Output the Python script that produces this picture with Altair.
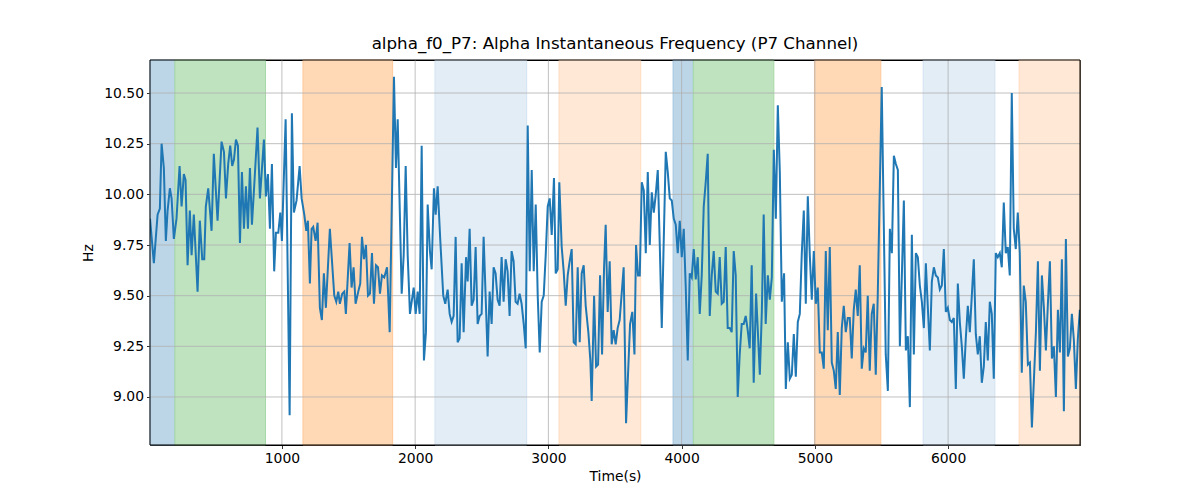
import altair as alt
import pandas as pd

# ---- line data (time in s, frequency in Hz) ----
t1 = [10, 39, 67, 84, 97, 114, 129, 142, 159, 172,
      189, 209, 232, 247, 264, 277, 292, 309, 322, 339,
      367, 384, 402, 417, 429, 447, 472, 489, 517, 547,
      565, 580, 597, 612, 627, 640, 655, 670, 685, 700,
      715, 730, 745, 760, 775, 792, 817, 835, 865, 880,
      895, 910, 925, 942, 955, 973, 988, 1000, 1028, 1058,
      1075, 1090, 1110, 1133, 1148, 1168, 1183, 1195, 1210, 1223,
      1235, 1253, 1268, 1285, 1300, 1315, 1330, 1360, 1393, 1408,
      1423, 1435, 1453, 1468, 1480, 1508, 1523, 1538, 1553, 1573,
      1588, 1601, 1616, 1631, 1646, 1661, 1676, 1691, 1706, 1721,
      1736, 1751, 1768]
v1 = [9.88, 9.66, 9.90, 9.93, 10.25, 10.13, 9.77, 9.92, 10.03, 9.98,
      9.78, 9.88, 10.14, 9.94, 10.10, 10.07, 9.65, 9.92, 9.70, 9.90,
      9.52, 9.87, 9.68, 9.68, 9.94, 10.03, 9.82, 10.20, 9.87, 10.26,
      10.21, 9.98, 10.15, 10.24, 10.14, 10.17, 10.27, 10.24, 9.76, 10.11,
      9.83, 10.04, 9.83, 10.13, 9.85, 10.04, 10.33, 9.98, 10.27, 9.99,
      10.10, 9.83, 10.15, 9.62, 9.81, 9.81, 9.91, 9.77, 10.37, 8.91,
      10.40, 9.91, 9.97, 10.14, 9.98, 9.90, 9.82, 9.87, 9.56, 9.83,
      9.84, 9.77, 9.86, 9.44, 9.38, 9.61, 9.44, 9.83, 9.50, 9.47,
      9.52, 9.46, 9.51, 9.52, 9.41, 9.76, 9.54, 9.64, 9.46, 9.52,
      9.56, 9.79, 9.68, 9.75, 9.50, 9.51, 9.71, 9.46, 9.65, 9.64,
      9.51, 9.60, 9.59]

t2 = [1789, 1809, 1841, 1856, 1869, 1899, 1914, 1929, 1944, 1961,
      1989, 2004, 2019, 2034, 2049, 2066, 2081, 2094, 2111, 2124,
      2141, 2154, 2169, 2189, 2211, 2226, 2244, 2259, 2274, 2289,
      2304, 2319, 2334, 2349, 2364, 2382, 2394, 2409, 2424, 2439,
      2454, 2469, 2484, 2499, 2514, 2529, 2544, 2559, 2574, 2589,
      2604, 2619, 2634, 2649, 2664, 2679, 2694, 2709, 2724, 2739,
      2754, 2769, 2784, 2799, 2815, 2830, 2845, 2860, 2875, 2890,
      2905, 2920, 2935, 2950, 2965, 2980, 2995, 3010, 3025, 3042,
      3055, 3070, 3082, 3100, 3115, 3130, 3145, 3160, 3175, 3190,
      3205, 3220, 3235, 3250, 3265, 3280, 3300, 3315, 3325, 3343,
      3358, 3373, 3388, 3403, 3418, 3430, 3445, 3460, 3475, 3490]
v2 = [9.64, 9.32, 10.58, 10.13, 10.37, 9.51, 9.70, 10.14, 9.70, 9.41,
      9.54, 9.41, 9.52, 9.41, 10.24, 9.18, 9.32, 9.95, 9.72, 9.63,
      10.03, 9.90, 10.04, 9.77, 9.50, 9.46, 9.53, 9.41, 9.37, 9.40,
      9.79, 9.27, 9.29, 9.66, 9.32, 9.69, 9.57, 9.83, 9.45, 9.48,
      9.74, 9.36, 9.40, 9.41, 9.79, 9.50, 9.20, 9.52, 9.36, 9.64,
      9.61, 9.48, 9.45, 9.69, 9.47, 9.68, 9.62, 9.40, 9.72, 9.67,
      9.47, 9.46, 9.51, 9.46, 9.36, 9.24, 10.34, 9.62, 10.12, 9.62,
      9.95, 9.50, 9.22, 9.47, 9.50, 9.70, 9.94, 9.98, 9.80, 10.08,
      9.61, 9.63, 10.06, 9.74, 9.62, 9.45, 9.60, 9.67, 9.73, 9.27,
      9.26, 9.64, 9.27, 9.61, 9.65, 9.45, 9.32, 9.18, 8.98, 9.50,
      9.15, 9.16, 9.60, 9.21, 9.64, 9.85, 9.42, 9.67, 9.26, 9.33]

t3 = [3505, 3520, 3535, 3565, 3583, 3613, 3630, 3646, 3658, 3673,
      3686, 3701, 3716, 3731, 3746, 3761, 3776, 3791, 3806, 3821,
      3836, 3851, 3881, 3896, 3911, 3926, 3941, 3956, 3971, 3986,
      4001, 4016, 4031, 4046, 4061, 4076, 4091, 4106, 4121, 4136,
      4151, 4166, 4181, 4196, 4211, 4226, 4241, 4256, 4271, 4286,
      4301, 4316, 4331, 4346, 4361, 4376, 4391, 4406, 4421, 4436,
      4451, 4466, 4481, 4496, 4511, 4526, 4541, 4559, 4571, 4587,
      4602, 4616, 4631, 4647, 4662, 4677, 4692, 4707, 4722, 4737,
      4752, 4769, 4782, 4797, 4812, 4827, 4842, 4857, 4872, 4887,
      4902, 4917, 4932, 4947, 4962, 4977, 4992, 5007, 5022, 5037,
      5052, 5067, 5082, 5097, 5112, 5127, 5142, 5157, 5172, 5187,
      5202, 5217]
v3 = [9.26, 9.34, 9.38, 9.64, 8.87, 9.36, 9.42, 9.21, 9.75, 9.60,
      9.60, 10.06, 10.02, 9.71, 10.11, 9.75, 10.01, 9.91, 10.00, 10.12,
      9.75, 9.34, 10.21, 10.11, 9.98, 9.97, 9.88, 9.85, 9.71, 9.87,
      9.69, 9.83, 9.54, 9.18, 9.61, 9.59, 9.73, 9.58, 9.69, 9.41,
      9.60, 9.94, 10.06, 10.20, 9.40, 9.60, 9.72, 9.52, 9.51, 9.69,
      9.46, 9.47, 9.74, 9.34, 9.34, 9.32, 9.72, 9.60, 9.00, 9.21,
      9.36, 9.36, 9.40, 9.33, 9.24, 9.65, 9.07, 9.51, 9.34, 9.11,
      9.42, 9.90, 9.36, 9.60, 9.48, 9.59, 10.22, 9.88, 10.44, 10.11,
      9.47, 9.61, 9.04, 9.27, 9.09, 9.11, 9.31, 9.10, 9.37, 9.41,
      9.71, 9.92, 9.46, 9.99, 9.70, 9.48, 9.72, 9.46, 9.54, 9.22,
      9.22, 9.14, 9.72, 9.33, 9.74, 9.17, 9.13, 9.04, 9.32, 9.01,
      9.34, 9.45]

t4 = [5232, 5247, 5262, 5277, 5292, 5307, 5322, 5337, 5352, 5367,
      5382, 5397, 5412, 5427, 5442, 5457, 5472, 5502, 5532, 5548,
      5563, 5578, 5593, 5608, 5623, 5638, 5653, 5668, 5683, 5698,
      5713, 5728, 5743, 5758, 5773, 5788, 5803, 5818, 5833, 5848,
      5863, 5878, 5893, 5908, 5923, 5938, 5953, 5968, 5983, 5998,
      6013, 6028, 6043, 6058, 6073, 6088, 6103, 6118, 6133, 6148,
      6163, 6178, 6193, 6208, 6223, 6238, 6253, 6268, 6283, 6298,
      6313, 6328, 6343, 6358, 6373, 6388, 6403, 6418, 6433, 6448,
      6463, 6478, 6493, 6508, 6523, 6538, 6553, 6568, 6583, 6599,
      6614, 6629, 6659, 6674, 6689, 6704, 6719, 6734, 6749, 6764,
      6779, 6794, 6809, 6824, 6839, 6854, 6869, 6884, 6899, 6914,
      6929, 6944, 6959, 6974, 6989]
v4 = [9.32, 9.39, 9.39, 9.19, 9.43, 9.53, 9.40, 9.65, 9.14, 9.24,
      9.22, 9.50, 9.13, 9.41, 9.46, 9.11, 9.50, 10.53, 9.21, 9.03,
      9.83, 9.71, 10.19, 10.15, 10.12, 9.25, 9.60, 9.97, 9.23, 9.30,
      8.95, 9.80, 9.21, 9.71, 9.69, 9.55, 9.47, 9.34, 9.66, 9.44,
      9.23, 9.57, 9.64, 9.60, 9.59, 9.53, 9.55, 9.73, 9.42, 9.44,
      9.38, 9.37, 9.39, 9.04, 9.56, 9.37, 9.25, 9.09, 9.29, 9.45,
      9.32, 9.50, 9.68, 9.31, 9.21, 9.30, 9.07, 9.15, 9.37, 9.18,
      9.47, 9.41, 9.09, 9.71, 9.69, 9.71, 9.64, 9.96, 9.71, 9.74,
      9.60, 10.50, 9.83, 9.73, 9.91, 9.71, 9.12, 9.55, 9.47, 9.16,
      9.17, 8.85, 9.32, 9.67, 9.13, 9.60, 9.44, 9.23, 9.46, 9.67,
      9.19, 9.25, 9.00, 9.43, 9.22, 9.68, 8.93, 9.78, 9.20, 9.24,
      9.41, 9.28, 9.04, 9.29, 9.43]

# ---- shaded intervals ----
band_start = [10, 197, 1158, 2149, 3080, 3936, 4088, 4997, 5813, 6533]
band_end = [197, 877, 1831, 2837, 3693, 4088, 4692, 5495, 6351, 6990]
band_kind = ["blue", "green", "orange", "lightblue", "lightorange",
             "blue", "green", "orange", "lightblue", "lightorange"]

kinds = ["blue", "green", "orange", "lightblue", "lightorange"]
fill_colors = ["#bcd6e8", "#bfe2bf", "#ffd9b6", "#e3edf6", "#ffe9d6"]
edge_colors = ["#a3c6df", "#a6d8a6", "#ffc99a", "#d3e2f0", "#ffdcbd"]

# ---- ticks ----
x_ticks = [1000, 2000, 3000, 4000, 5000, 6000]
y_ticks = [9.00, 9.25, 9.50, 9.75, 10.00, 10.25, 10.50]
x_domain = [10, 6990]
y_domain = [8.763, 10.663]

line_df = pd.DataFrame({"t": t1 + t2 + t3 + t4, "hz": v1 + v2 + v3 + v4})
band_df = pd.DataFrame({"start": band_start, "end": band_end, "kind": band_kind})
xg_df = pd.DataFrame({"x": x_ticks})
yg_df = pd.DataFrame({"y": y_ticks})
frame_df = pd.DataFrame({"x0": [x_domain[0]], "x1": [x_domain[1]],
                         "y0": [y_domain[0]], "y1": [y_domain[1]]})

FONT = "DejaVu Sans"

xscale = alt.Scale(domain=x_domain, nice=False, zero=False)
yscale = alt.Scale(domain=y_domain, nice=False, zero=False)

xaxis = alt.Axis(values=x_ticks, title="Time(s)", grid=False, domain=False,
                 labelFont=FONT, labelFontSize=13.9, labelColor="black",
                 titleFont=FONT, titleFontSize=13.9, titleFontWeight="normal",
                 titleColor="black", tickColor="black", tickSize=3.5, tickWidth=0.8,
                 labelPadding=3, titlePadding=4, format="d", labelFlush=False)
yaxis = alt.Axis(values=y_ticks, title="Hz", grid=False, domain=False, format=".2f",
                 labelFont=FONT, labelFontSize=13.9, labelColor="black",
                 titleFont=FONT, titleFontSize=13.9, titleFontWeight="normal",
                 titleColor="black", tickColor="black", tickSize=3.5, tickWidth=0.8,
                 labelPadding=3, titlePadding=8, labelFlush=False)

bands = alt.Chart(band_df).mark_rect(strokeWidth=1).encode(
    x=alt.X("start:Q", scale=xscale, axis=xaxis),
    x2="end:Q",
    y=alt.value(0),
    y2=alt.value(385),
    fill=alt.Fill("kind:N", scale=alt.Scale(domain=kinds, range=fill_colors), legend=None),
    stroke=alt.Stroke("kind:N", scale=alt.Scale(domain=kinds, range=edge_colors), legend=None),
)

xgrid = alt.Chart(xg_df).mark_rule(color="#b0b0b0", strokeWidth=0.8).encode(
    x=alt.X("x:Q", scale=xscale, axis=xaxis)
)
ygrid = alt.Chart(yg_df).mark_rule(color="#b0b0b0", strokeWidth=0.8).encode(
    y=alt.Y("y:Q", scale=yscale, axis=yaxis)
)

line = alt.Chart(line_df).mark_line(color="#1f77b4", strokeWidth=2, clip=True).encode(
    x=alt.X("t:Q", scale=xscale, axis=xaxis),
    y=alt.Y("hz:Q", scale=yscale, axis=yaxis),
)

frame = alt.Chart(frame_df).mark_rect(fillOpacity=0, stroke="black", strokeWidth=1).encode(
    x=alt.X("x0:Q", scale=xscale, axis=xaxis),
    x2="x1:Q",
    y=alt.Y("y0:Q", scale=yscale, axis=yaxis),
    y2="y1:Q",
)

chart = alt.layer(bands, xgrid, ygrid, line, frame).resolve_scale(
    fill="independent", stroke="independent"
).properties(
    width=930,
    height=385,
    title=alt.TitleParams(
        "alpha_f0_P7: Alpha Instantaneous Frequency (P7 Channel)",
        font=FONT, fontSize=16.7, fontWeight="normal", color="black",
        anchor="middle", offset=7,
    ),
    autosize=alt.AutoSizeParams(type="none"),
    padding={"left": 142, "top": 52, "right": 112, "bottom": 47},
    background="white",
).configure_view(
    stroke="black", strokeWidth=1
)

chart.save("out.html", embed_options={"renderer": "svg", "actions": False})
